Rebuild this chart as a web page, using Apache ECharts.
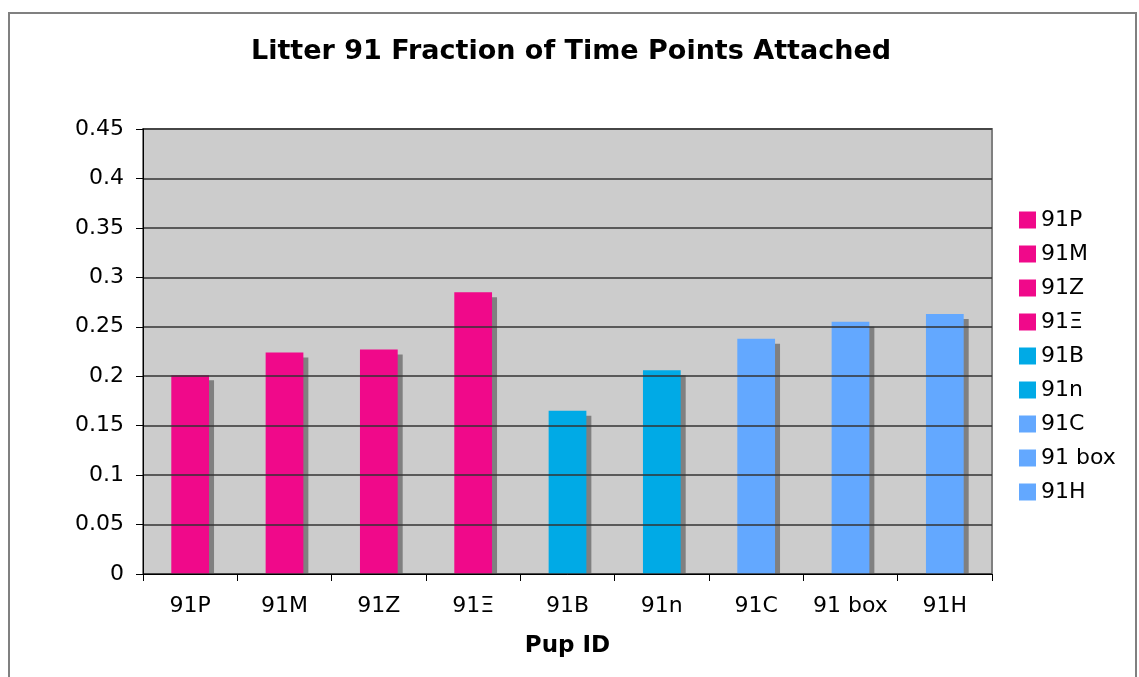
<!DOCTYPE html>
<html>
<head>
<meta charset="utf-8">
<script src="https://cdn.jsdelivr.net/npm/echarts@6/dist/echarts.min.js"></script>
<style>html,body{margin:0;padding:0;background:#fff;}#c{width:1139px;height:677px;}</style>
</head>
<body>
<div id="c"></div>
<script>
const categories = ['91P', '91M', '91Z', '91Ξ', '91B', '91n', '91C', '91 box', '91H'];
const values = [0.201, 0.224, 0.227, 0.285, 0.165, 0.206, 0.238, 0.255, 0.263];
const colors = ['#F0098A', '#F0098A', '#F0098A', '#F0098A', '#00AAE6', '#00AAE6', '#63A8FF', '#63A8FF', '#63A8FF'];
const yTicks = { min: 0, max: 0.45, interval: 0.05 };

const FONT = '"DejaVu Sans", Verdana, sans-serif';
const chart = echarts.init(document.getElementById('c'), null, { renderer: 'canvas' });

const series = categories.map((name, i) => ({
  name: name,
  type: 'bar',
  stack: 'all',
  barWidth: '40%',
  data: categories.map((c, j) => (j === i ? values[i] : '-')),
  itemStyle: {
    color: colors[i],
    shadowColor: '#808080',
    shadowBlur: 0,
    shadowOffsetX: 5,
    shadowOffsetY: 5
  },
  emphasis: { disabled: true },
  z: 3
}));

chart.setOption({
  animation: false,
  backgroundColor: '#ffffff',
  title: {
    text: 'Litter 91 Fraction of Time Points Attached',
    left: 566, textAlign: 'center',
    top: 33,
    textStyle: { fontFamily: FONT, fontWeight: 'bold', fontSize: 27, color: '#000' }
  },
  graphic: [{
    type: 'rect', silent: true, z: -1,
    shape: { x: 9, y: 13, width: 1127, height: 700 },
    style: { fill: 'none', stroke: '#808080', lineWidth: 2 }
  }, {
    type: 'rect', silent: true, z: 5,
    shape: { x: 144, y: 575, width: 860, height: 8 },
    style: { fill: '#ffffff' }
  }],
  legend: {
    orient: 'vertical',
    left: 1014, top: 204,
    itemWidth: 17, itemHeight: 17,
    itemGap: 12,
    icon: 'rect',
    data: categories,
    selectedMode: false,
    textStyle: { fontFamily: FONT, fontSize: 22, color: '#000', lineHeight: 22 }
  },
  grid: {
    left: 143, right: 147, top: 129, bottom: 103,
    show: true, backgroundColor: '#CCCCCC', borderColor: '#808080', borderWidth: 2
  },
  xAxis: {
    type: 'category',
    data: categories,
    z: 10,
    name: 'Pup ID',
    nameLocation: 'middle',
    nameGap: 61,
    nameTextStyle: { fontFamily: FONT, fontWeight: 'bold', fontSize: 23, color: '#000' },
    axisLine: { lineStyle: { color: '#000', width: 1 } },
    axisTick: { show: true, interval: 0, length: 7, lineStyle: { color: '#000' } },
    axisLabel: { interval: 0, fontFamily: FONT, fontSize: 22, color: '#000', margin: 21 },
    splitLine: { show: false }
  },
  yAxis: {
    type: 'value',
    z: 10,
    min: yTicks.min, max: yTicks.max, interval: yTicks.interval,
    axisLine: { show: true, lineStyle: { color: '#000', width: 1 } },
    axisTick: { show: true, length: 7, lineStyle: { color: '#000' } },
    axisLabel: { fontFamily: FONT, fontSize: 22, color: '#000', margin: 19 },
    splitLine: { show: true, lineStyle: { color: '#333333', width: 1.5 } }
  },
  series: series
});
</script>
</body>
</html>
